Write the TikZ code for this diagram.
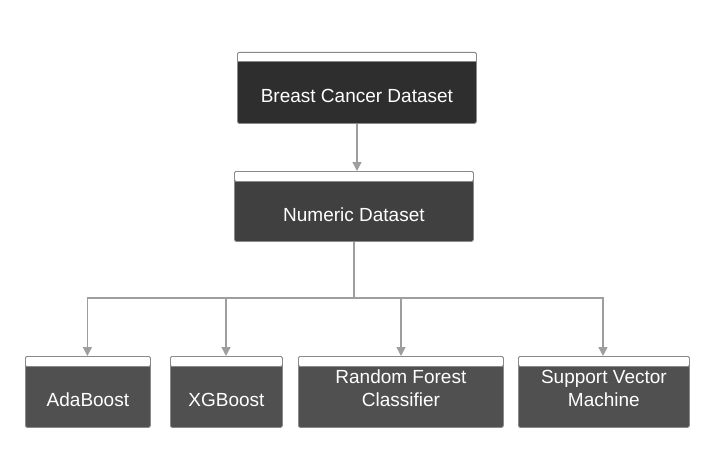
\documentclass[tikz,border=0pt]{standalone}
\usepackage{fontspec}
\setmainfont{Liberation Sans}
\usetikzlibrary{arrows.meta}
\definecolor{boxA}{HTML}{2E2E2E}
\definecolor{boxB}{HTML}{404040}
\definecolor{boxC}{HTML}{505050}
\definecolor{edge}{HTML}{8A8A8A}
\definecolor{conn}{HTML}{9E9E9E}
\newcommand{\boxtxt}[2]{\raisebox{#1}[0pt][0pt]{\begin{tabular}{@{}c@{}}#2\end{tabular}}}
\tikzset{
  card/.style={draw=edge, line width=0.8pt, rounded corners=1.5pt, anchor=north west,
    inner sep=0pt, text=white, font=\fontsize{19}{23}\selectfont,
    path picture={\fill[white] (path picture bounding box.north west) rectangle ([yshift=-9.5pt]path picture bounding box.north east);
                  \draw[edge, line width=0.8pt] ([yshift=-9.5pt]path picture bounding box.north west) -- ([yshift=-9.5pt]path picture bounding box.north east);}},
  conn/.style={draw=conn, line width=1.4pt, -{Triangle[length=9pt,width=9pt]}},
  plain/.style={draw=conn, line width=1.4pt}
}
\begin{document}
\begin{tikzpicture}[x=1pt,y=-1pt]
\useasboundingbox (0,0) rectangle (709,452);
\node[card, fill=boxA, minimum width=239pt, minimum height=71pt] (bcd) at (237,52) {\boxtxt{-14pt}{Breast Cancer Dataset}};
\node[card, fill=boxB, minimum width=239pt, minimum height=70pt] (nd) at (234,171) {\boxtxt{-14.5pt}{Numeric Dataset}};
\node[card, fill=boxC, minimum width=125pt, minimum height=71pt] (ada) at (25,356) {\boxtxt{-14pt}{AdaBoost}};
\node[card, fill=boxC, minimum width=112pt, minimum height=71pt] (xgb) at (170,356) {\boxtxt{-14pt}{XGBoost}};
\node[card, fill=boxC, minimum width=205pt, minimum height=71pt] (rf) at (298,356) {\boxtxt{-2.5pt}{Random Forest\\Classifier}};
\node[card, fill=boxC, minimum width=171pt, minimum height=71pt] (svm) at (518,356) {\boxtxt{-2.5pt}{Support Vector\\Machine}};

\coordinate (hub) at (354,298);
\draw[conn] (bcd.south -| 357,0) -- (nd.north -| 357,0);
\draw[plain] (nd.south -| hub) -- (hub);
\draw[conn] (hub) -| ([xshift=-0.5pt]ada.north);
\draw[conn] (hub) -| (svm.north -| 603,0);
\draw[conn] (226,299) -- (xgb.north -| 226,0);
\draw[conn] (401,299) -- (rf.north -| 401,0);
\end{tikzpicture}
\end{document}
